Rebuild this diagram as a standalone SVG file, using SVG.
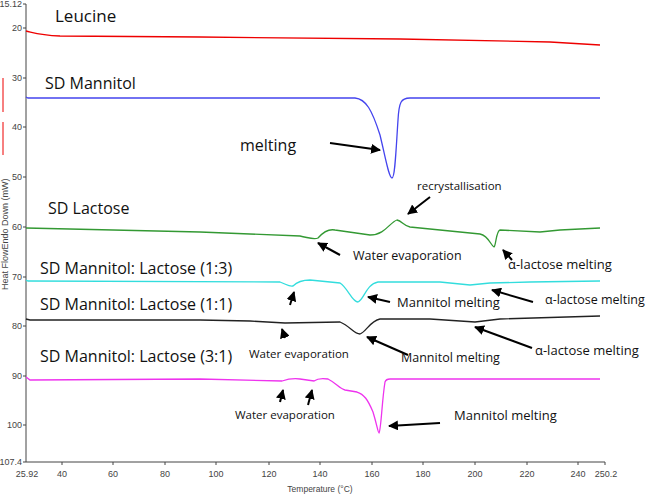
<svg xmlns="http://www.w3.org/2000/svg" width="647" height="498" viewBox="0 0 647 498">
<defs>
<marker id="ah" viewBox="0 0 10 10" refX="9" refY="5" markerWidth="5" markerHeight="5" orient="auto"><path d="M0,0 L10,5 L0,10 z" fill="#000"/></marker>
<style>
.ax{font-family:"Liberation Sans",sans-serif;font-size:9px;fill:#444}
.lb{font-family:"Open Sans","Liberation Sans",sans-serif;fill:#111}
.c{fill:none;stroke-width:1.3}
.ar{stroke:#000;stroke-width:2;fill:none;marker-end:url(#ah)}
</style>
</defs>
<rect width="647" height="498" fill="#fff"/>
<g id="axes">
<path d="M26,4 V462 H605" stroke="#444" fill="none"/>
<g stroke="#444">
<path d="M23,4h3M23,28h3M23,78h3M23,127h3M23,177h3M23,227h3M23,277h3M23,326h3M23,376h3M23,425h3M23,462h3"/>
<path d="M62,462v3M113,462v3M165,462v3M216,462v3M269,462v3M320,462v3M372,462v3M423,462v3M475,462v3M527,462v3M578,462v3M605,462v3"/>
</g>
<g class="ax" text-anchor="end">
<text x="22" y="7">15.12</text><text x="22" y="31">20</text><text x="22" y="81">30</text><text x="22" y="130">40</text><text x="22" y="180">50</text><text x="22" y="230">60</text><text x="22" y="280">70</text><text x="22" y="329">80</text><text x="22" y="379">90</text><text x="22" y="428">100</text><text x="22" y="465">107.4</text>
</g>
<g class="ax" text-anchor="middle">
<text x="27" y="477">25.92</text><text x="62" y="477">40</text><text x="113" y="477">60</text><text x="165" y="477">80</text><text x="216" y="477">100</text><text x="269" y="477">120</text><text x="320" y="477">140</text><text x="372" y="477">160</text><text x="423" y="477">180</text><text x="475" y="477">200</text><text x="527" y="477">220</text><text x="578" y="477">240</text><text x="606" y="477">250.2</text>
<text x="320" y="492" font-size="8.5">Temperature (°C)</text>
</g>
<path d="M3,78V112" stroke="#e00" stroke-width="1"/>
<path d="M3,122V155" stroke="#e00" stroke-width="1"/>
<text class="ax" font-size="8.5" transform="translate(8,290) rotate(-90)">Heat FlowEndo Down (mW)</text>
</g>
<g id="curves">
<path id="leucine" class="c" stroke="#e00" d="M26,31 C35,33 40,35 60,36 L200,37 L400,39 L550,42 L600,45"/>
<path id="mannitol" class="c" stroke="#44e" d="M26,97 L28,98 L355,98 C366,99 372,110 380,135 C386,160 389,178 392,178 C395,178 396,150 398,120 C399,102 401,98 410,98 L600,98"/>
<path id="lactose" class="c" stroke="#393" d="M26,228 L200,232 L300,236 C310,238 314,240 318,238 C325,230 330,229 335,230 L370,235 C385,235 390,222 397,220 C402,221 404,226 410,227 L480,234 C489,236 491,246 494,247 C496,246 496,231 500,230 L540,232 L560,230 L600,228"/>
<path id="lactose13" class="c" stroke="#3dd" d="M26,280 L28,281 L280,282 C286,284 289,287 293,286 C297,282 302,280 310,280 L340,283 C348,288 352,302 358,302 C364,300 366,284 378,282 L440,282 L470,285 L490,283 L530,282 L600,281"/>
<path id="lactose11" class="c" stroke="#222" d="M26,319 L30,320 L200,320 L250,321 L285,323 L340,322 C350,326 354,334 360,334 C366,332 370,321 380,319 L430,319 L475,322 L500,319 L600,316"/>
<path id="lactose31" class="c" stroke="#e3e" d="M26,377 L30,380 L200,379 L282,381 C288,379 292,378 300,379 L314,381 C318,378 322,378 328,379 C336,383 340,389 345,390 L357,392 C364,394 368,400 373,412 C377,425 378,433 379,433 C381,431 382,400 385,382 C386,379 388,379 390,379 L600,379"/>
</g>
<g id="arrows">
<path class="ar" d="M330,143 L380,150"/>
<path class="ar" d="M430,197 L408,214"/>
<path class="ar" d="M340,255 L318,243"/>
<path class="ar" d="M512,260 L503,250"/>
<path class="ar" d="M390,302 L368,297"/>
<path class="ar" d="M533,302 L492,290"/>
<path class="ar" d="M290,305 L294,292"/>
<path class="ar" d="M285,338 L282,329"/>
<path class="ar" d="M408,355 L367,337"/>
<path class="ar" d="M532,348 L475,327"/>
<path class="ar" d="M280,402 L283,390"/>
<path class="ar" d="M308,405 L312,390"/>
<path class="ar" d="M440,423 L389,426"/>
</g>
<g id="labels" class="lb">
<text x="55" y="22" font-size="17">Leucine</text>
<text x="45" y="89" font-size="16">SD Mannitol</text>
<text x="240" y="151" font-size="16">melting</text>
<text x="48" y="214" font-size="16">SD Lactose</text>
<text x="417" y="190" font-size="11.5">recrystallisation</text>
<text x="353" y="260" font-size="12.5">Water evaporation</text>
<text x="508" y="269" font-size="13">α-lactose melting</text>
<text x="40" y="274" font-size="16">SD Mannitol: Lactose (1:3)</text>
<text x="545" y="304" font-size="12.5">α-lactose melting</text>
<text x="397" y="307" font-size="13">Mannitol melting</text>
<text x="40" y="310" font-size="16">SD Mannitol: Lactose (1:1)</text>
<text x="535" y="355" font-size="13">α-lactose melting</text>
<text x="249" y="358" font-size="11.5">Water evaporation</text>
<text x="401" y="362" font-size="12.5">Mannitol melting</text>
<text x="40" y="362" font-size="16">SD Mannitol: Lactose (3:1)</text>
<text x="235" y="419" font-size="11.5">Water evaporation</text>
<text x="454" y="420" font-size="13">Mannitol melting</text>
</g>
</svg>
